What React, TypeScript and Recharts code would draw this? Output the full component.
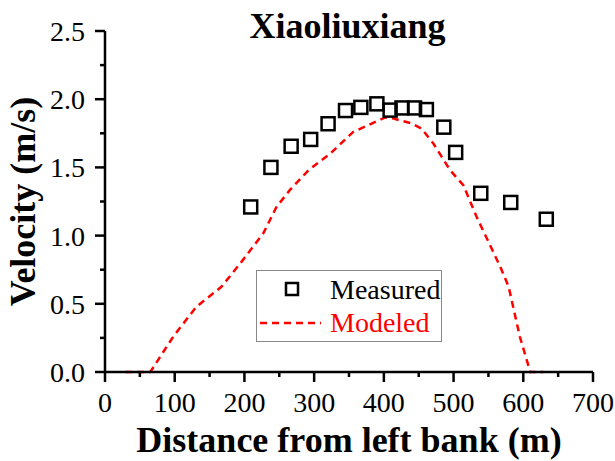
import React from 'react';
import { ComposedChart, Line, Scatter, XAxis, YAxis } from 'recharts';

const measuredDistance = [209, 238, 267, 295, 320, 345, 367, 390, 409, 426, 444, 461, 486, 503, 539, 582, 633];
const measuredVelocity = [1.21, 1.5, 1.655, 1.705, 1.82, 1.917, 1.94, 1.966, 1.92, 1.936, 1.936, 1.924, 1.795, 1.61, 1.31, 1.243, 1.12];

const modeledDistance = [29, 65, 98, 131, 167, 194, 227, 246, 265, 292, 323, 356, 402, 414, 440, 454, 471, 495, 514, 533, 567, 579, 595, 610, 629];
const modeledVelocity = [0, 0, 0.26, 0.478, 0.625, 0.796, 1.016, 1.21, 1.333, 1.48, 1.6, 1.76, 1.866, 1.858, 1.822, 1.785, 1.675, 1.48, 1.37, 1.138, 0.771, 0.625, 0.26, 0, 0];

const xTicks = [0, 50, 100, 150, 200, 250, 300, 350, 400, 450, 500, 550, 600, 650, 700];
const yTicks = [0, 0.25, 0.5, 0.75, 1, 1.25, 1.5, 1.75, 2, 2.25, 2.5];

const measured = measuredDistance.map((d, i) => ({ x: d, v: measuredVelocity[i] }));
const modeled = modeledDistance.map((d, i) => ({ x: d, v: modeledVelocity[i] }));

const FONT = '"Liberation Serif", "Times New Roman", serif';

function XTick(props: any) {
    const { x, y, payload } = props;
    const major = payload.value % 100 === 0;
    return (
        <g>
            <line x1={x} x2={x} y1={y} y2={y + (major ? 10 : 5)} stroke='#000' strokeWidth={2.5} />
            {major && (
                <text x={x} y={y + 40} textAnchor='middle' fontSize={28} fontFamily={FONT} fill='#000'>
                    {payload.value}
                </text>
            )}
        </g>
    );
}

function YTick(props: any) {
    const { x, y, payload } = props;
    const major = Math.round(payload.value * 100) % 50 === 0;
    return (
        <g>
            <line x1={x} x2={x - (major ? 10 : 5)} y1={y} y2={y} stroke='#000' strokeWidth={2.5} />
            {major && (
                <text x={x - 20} y={y + 10} textAnchor='end' fontSize={28} fontFamily={FONT} fill='#000'>
                    {payload.value.toFixed(1)}
                </text>
            )}
        </g>
    );
}

function SquareDot(props: any) {
    const { cx, cy } = props;
    return <rect x={cx - 6.5} y={cy - 6.5} width={13} height={13} fill='none' stroke='#000' strokeWidth={2.5} />;
}

export default function App() {
    return (
        <div style={{ position: 'absolute', left: 0, top: 0, width: 615, height: 461, background: '#fff' }}>
            <ComposedChart width={615} height={461} margin={{ top: 31, right: 22, bottom: 0, left: 0 }}>
                <XAxis
                    type='number'
                    dataKey='x'
                    domain={[0, 700]}
                    ticks={xTicks}
                    interval={0}
                    height={89}
                    tickSize={0}
                    tickMargin={0}
                    tickLine={false}
                    axisLine={{ stroke: '#000', strokeWidth: 2.5 }}
                    tick={<XTick />}
                    label={{
                        value: 'Distance from left bank (m)',
                        position: 'insideBottom',
                        offset: 9,
                        style: { fontFamily: FONT, fontSize: 36, fontWeight: 'bold', fill: '#000' },
                    }}
                />
                <YAxis
                    type='number'
                    dataKey='v'
                    domain={[0, 2.5]}
                    ticks={yTicks}
                    interval={0}
                    width={105}
                    tickSize={0}
                    tickMargin={0}
                    tickLine={false}
                    axisLine={{ stroke: '#000', strokeWidth: 2.5 }}
                    tick={<YTick />}
                    label={{
                        value: 'Velocity (m/s)',
                        angle: -90,
                        position: 'insideLeft',
                        offset: 22,
                        style: { fontFamily: FONT, fontSize: 36, fontWeight: 'bold', fill: '#000', textAnchor: 'middle' },
                    }}
                />
                <Line
                    data={modeled}
                    dataKey='v'
                    type='linear'
                    stroke='#ff0000'
                    strokeWidth={2.5}
                    strokeDasharray='7 5'
                    dot={false}
                    isAnimationActive={false}
                />
                <Scatter data={measured} dataKey='v' shape={<SquareDot />} isAnimationActive={false} />
            </ComposedChart>
            <div
                style={{
                    position: 'absolute',
                    left: 0,
                    width: 695,
                    top: 6,
                    textAlign: 'center',
                    fontFamily: FONT,
                    fontSize: 36,
                    fontWeight: 'bold',
                    lineHeight: '40px',
                }}
            >
                Xiaoliuxiang
            </div>
            <div
                style={{
                    position: 'absolute',
                    left: 256,
                    top: 270,
                    width: 184,
                    height: 70,
                    border: '1px solid #888',
                    fontFamily: FONT,
                    fontSize: 28,
                }}
            >
                <svg width={184} height={70} style={{ position: 'absolute', left: 0, top: 0 }}>
                    <rect x={29} y={12} width={12} height={12} fill='none' stroke='#000' strokeWidth={2.5} />
                    <line x1={3} x2={64} y1={52} y2={52} stroke='#ff0000' strokeWidth={2.5} strokeDasharray='7 5' />
                    <text x={73} y={28} fontFamily={FONT} fontSize={28} fill='#000'>Measured</text>
                    <text x={73} y={61} fontFamily={FONT} fontSize={28} fill='#ff0000'>Modeled</text>
                </svg>
            </div>
        </div>
    );
}
